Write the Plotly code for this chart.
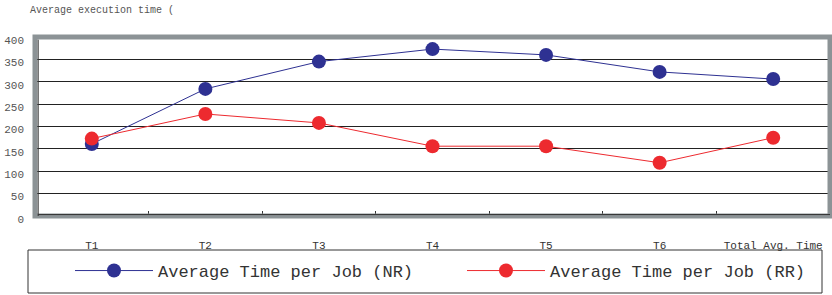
import plotly.graph_objects as go

categories = ["T1", "T2", "T3", "T4", "T5", "T6", "Total Avg. Time"]
nr_values = [161, 284, 345, 373, 360, 322, 306]
rr_values = [173, 228, 208, 156, 156, 119, 175]
y_ticks = [0, 50, 100, 150, 200, 250, 300, 350, 400]

MONO = "Liberation Mono"
W, H = 832, 295

fig = go.Figure()
fig.add_trace(go.Scatter(
    x=categories, y=nr_values, mode="lines+markers",
    name="Average Time per Job (NR)",
    line=dict(color="#2e3192", width=1),
    marker=dict(color="#2e3192", size=14, symbol="circle"),
))
fig.add_trace(go.Scatter(
    x=categories, y=rr_values, mode="lines+markers",
    name="Average Time per Job (RR)",
    line=dict(color="#ed2a2f", width=1),
    marker=dict(color="#ed2a2f", size=14, symbol="circle"),
))

# frame
fig.add_shape(type="rect", xref="paper", yref="paper", x0=0, x1=1, y0=0, y1=1,
              line=dict(color="#8c9396", width=5), layer="above")
fig.add_shape(type="line", xref="paper", yref="paper", x0=0.004, x1=0.004, y0=0, y1=0.985,
              line=dict(color="#333333", width=1), layer="above")
fig.add_shape(type="line", xref="paper", yref="paper", x0=0.004, x1=1, y0=0.008, y1=0.008,
              line=dict(color="#333333", width=1), layer="above")
# legend box
fig.add_shape(type="rect", xref="paper", yref="paper",
              x0=(28 - 35) / 795, x1=(822 - 35) / 795,
              y0=(216 - 293) / 179, y1=(216 - 250) / 179,
              line=dict(color="#333333", width=1), fillcolor="rgba(0,0,0,0)")

fig.add_annotation(text="Average execution time (", xref="paper", yref="paper",
                   x=(28 - 35) / 795, y=(216 - 10) / 179, xanchor="left", yanchor="middle",
                   showarrow=False, font=dict(family=MONO, size=10, color="#555555"))

fig.update_layout(
    width=W, height=H,
    margin=dict(l=35, r=2, t=37, b=79),
    paper_bgcolor="white", plot_bgcolor="white",
    showlegend=True,
    legend=dict(orientation="h", xref="container", yref="container",
                x=70 / W, xanchor="left",
                y=1 - 271 / H, yanchor="middle",
                bgcolor="rgba(0,0,0,0)", borderwidth=0,
                font=dict(family=MONO, size=17, color="#333333"),
                itemwidth=78, entrywidth=299, entrywidthmode="pixels"),
    xaxis=dict(type="category", showgrid=False, ticks="inside", tickson="boundaries",
               ticklen=5, tickcolor="#333333", showline=False, automargin=False,
               tickfont=dict(family=MONO, size=11, color="#333333"),
               ticklabelstandoff=21, range=[-0.5, 6.5]),
    yaxis=dict(range=[0, 400], tickvals=y_ticks, showgrid=True, gridcolor="#222222",
               gridwidth=1, zeroline=False, showline=False, automargin=False,
               tickfont=dict(family=MONO, size=11, color="#555555"),
               ticklabelstandoff=10, ticklabelshift=3),
)

fig.write_html("out.html", config={"displayModeBar": False},
               post_script="document.body.style.margin='0';")
